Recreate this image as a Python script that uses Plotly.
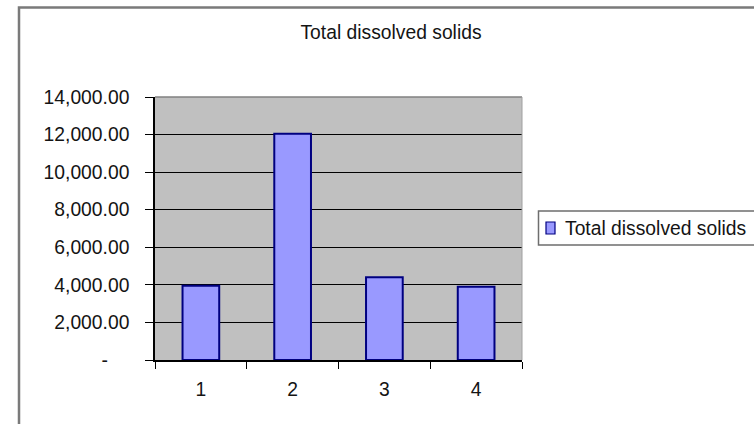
import plotly.graph_objects as go

# Series data
categories = ["1", "2", "3", "4"]
tds_values = [3950, 12050, 4400, 3900]
series_name = "Total dissolved solids"

# Y-axis ticks (accounting-style labels, zero shown as a dash)
y_tick_values = [0, 2000, 4000, 6000, 8000, 10000, 12000, 14000]
y_tick_labels = ["-\u00a0\u00a0\u00a0\u00a0", "2,000.00", "4,000.00", "6,000.00",
                 "8,000.00", "10,000.00", "12,000.00", "14,000.00"]

W, H = 754, 424
L, R, T, B = 155, 522, 97, 360          # plot-area edges in pixels
PW, PH = R - L, B - T

FONT = "Liberation Sans"
FS = 19.3
TXT = "#141414"


def px_x(p):
    return (p - L) / PW


def px_y(p):
    return (B - p) / PH


fig = go.Figure()
fig.add_trace(go.Bar(
    x=categories, y=tds_values, name=series_name,
    marker=dict(color="#9999ff", line=dict(color="#000080", width=2)),
    showlegend=False,
))

shapes = [
    # chart-area frame
    dict(type="rect", xref="paper", yref="paper",
         x0=px_x(19), x1=px_x(770), y0=px_y(440), y1=px_y(7.5),
         line=dict(color="#7a7a7a", width=2.5), fillcolor="rgba(0,0,0,0)",
         layer="below"),
    # plot-area border (top and right)
    dict(type="line", xref="paper", yref="paper", x0=0, x1=1, y0=1, y1=1,
         line=dict(color="#808080", width=1.5), layer="above"),
    dict(type="line", xref="paper", yref="paper", x0=1, x1=1, y0=0, y1=1,
         line=dict(color="#a0a0a0", width=1), layer="above"),
    # legend box
    dict(type="rect", xref="paper", yref="paper",
         x0=px_x(538.5), x1=px_x(770), y0=px_y(245), y1=px_y(211),
         line=dict(color="#6e6e6e", width=1.5), fillcolor="white"),
    # legend swatch
    dict(type="rect", xref="paper", yref="paper",
         x0=px_x(546), x1=px_x(555), y0=px_y(234), y1=px_y(222),
         line=dict(color="#000080", width=1.2), fillcolor="#9999ff"),
]

annotations = [
    dict(text=series_name, xref="paper", yref="paper",
         x=px_x(563), y=px_y(228), xanchor="left", yanchor="middle",
         showarrow=False, font=dict(family=FONT, size=FS, color=TXT)),
]

fig.update_layout(
    width=W, height=H,
    margin=dict(l=L, r=W - R, t=T, b=H - B, pad=0),
    paper_bgcolor="white", plot_bgcolor="#c0c0c0",
    font=dict(family=FONT, size=FS, color=TXT),
    title=dict(text=series_name, xref="container", yref="container",
               x=391 / W, y=1 - 32 / H, xanchor="center", yanchor="middle",
               font=dict(family=FONT, size=FS, color=TXT)),
    bargap=0.6,
    shapes=shapes,
    annotations=annotations,
    xaxis=dict(
        type="category", tickson="boundaries", ticks="outside", ticklen=7,
        tickcolor="black", tickwidth=1, showgrid=False,
        showline=True, linecolor="black", linewidth=2,
        ticklabelstandoff=11, automargin=False,
        tickfont=dict(family=FONT, size=FS, color=TXT),
    ),
    yaxis=dict(
        range=[0, 14000], tickvals=y_tick_values, ticktext=y_tick_labels,
        ticks="outside", ticklen=8, tickcolor="black", tickwidth=1,
        showgrid=True, gridcolor="black", gridwidth=1,
        showline=True, linecolor="black", linewidth=1.5,
        zeroline=False, ticklabelstandoff=12, automargin=False,
        tickfont=dict(family=FONT, size=FS, color=TXT),
    ),
)

fig.write_html("out.html")
